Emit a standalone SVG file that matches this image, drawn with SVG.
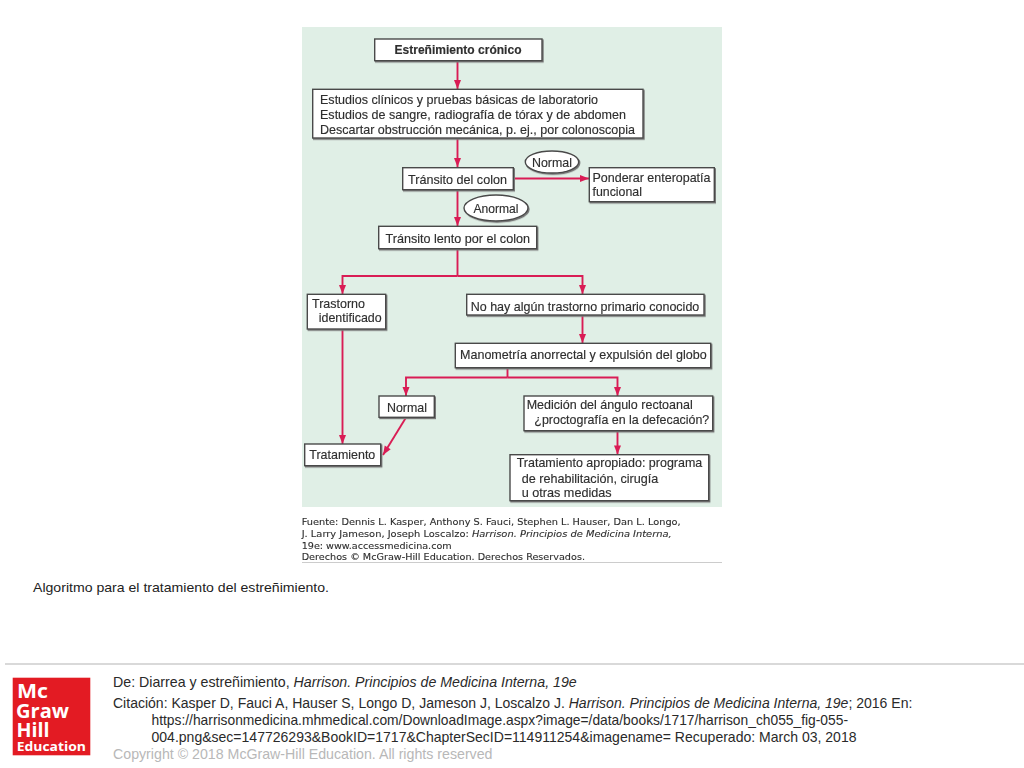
<svg xmlns="http://www.w3.org/2000/svg" width="1024" height="768" viewBox="0 0 1024 768">
<style>
text{font-family:"Liberation Sans",Arial,sans-serif;fill:#2e2e2e}
.n{fill:#fff;stroke:#4a4a4a;stroke-width:1.4;filter:url(#sh)}
.t{font-size:12.8px;stroke:#2e2e2e;stroke-width:.15px}
.b{font-weight:bold}
.c{text-anchor:middle}
.l{fill:none;stroke:#d91f55;stroke-width:1.9}
.s{font-family:"DejaVu Sans",Verdana,sans-serif;font-size:9.3px;fill:#2e2e2e;stroke:#2e2e2e;stroke-width:.12px}
.f{font-size:14.2px;fill:#2a2a2a}
.g{font-family:"Open Sans",Arial,sans-serif;font-weight:bold;fill:#fff}
</style>
<defs>
<filter id="sh" x="-5%" y="-10%" width="110%" height="125%"><feDropShadow dx="1" dy="1.2" stdDeviation="0.5" flood-color="#777"/></filter>
<filter id="soft" x="0" y="0" width="100%" height="100%"><feGaussianBlur stdDeviation="0.35"/></filter>
<marker id="a" markerUnits="userSpaceOnUse" markerWidth="8" markerHeight="10" refX="9" refY="3.500" orient="auto" overflow="visible"><path d="M0 0L9 3.500L0 7z" fill="#d91f55"/></marker>
</defs>
<rect width="1024" height="768" fill="#fff"/>
<g id="figure" filter="url(#soft)">
<rect x="302" y="27" width="420" height="480" fill="#e0efe6"/>
<g id="connectors">
<path class="l" marker-end="url(#a)" d="M457.500 61V89"/>
<path class="l" marker-end="url(#a)" d="M457.500 138V167"/>
<path class="l" marker-end="url(#a)" d="M513 178.500H589"/>
<path class="l" marker-end="url(#a)" d="M457.500 190V226"/>
<path class="l" d="M457.500 249V276"/>
<path class="l" marker-end="url(#a)" d="M457.500 276H342.500V294"/>
<path class="l" marker-end="url(#a)" d="M457.500 276H582.500V294"/>
<path class="l" marker-end="url(#a)" d="M582.500 315V343"/>
<path class="l" d="M507.500 368V377.500"/>
<path class="l" marker-end="url(#a)" d="M507.500 377.500H406V396"/>
<path class="l" marker-end="url(#a)" d="M507.500 377.500H617.500V396"/>
<path class="l" marker-end="url(#a)" d="M342.500 329V444"/>
<path class="l" marker-end="url(#a)" d="M406 417.500L383 455"/>
<path class="l" marker-end="url(#a)" d="M617.500 431V454.500"/>
</g>
<g id="n1"><rect class="n" x="374.700" y="39" width="167.300" height="21.700"/><text class="t b" x="394.500" y="54" textLength="127" lengthAdjust="spacingAndGlyphs">Estreñimiento crónico</text></g>
<g id="n2"><rect class="n" x="312.700" y="89.300" width="330.300" height="48.700"/>
<text class="t" x="320" y="103.500" textLength="278" lengthAdjust="spacingAndGlyphs">Estudios clínicos y pruebas básicas de laboratorio</text>
<text class="t" x="320" y="118.500" textLength="306" lengthAdjust="spacingAndGlyphs">Estudios de sangre, radiografía de tórax y de abdomen</text>
<text class="t" x="320" y="133.500" textLength="315" lengthAdjust="spacingAndGlyphs">Descartar obstrucción mecánica, p. ej., por colonoscopia</text></g>
<g id="n3"><rect class="n" x="402.700" y="167.700" width="110.600" height="22"/><text class="t" x="408" y="184" textLength="99" lengthAdjust="spacingAndGlyphs">Tránsito del colon</text></g>
<g id="n4"><ellipse class="n" cx="552" cy="162" rx="26.700" ry="11"/><text class="t c" x="552" y="166.800" textLength="40" lengthAdjust="spacingAndGlyphs">Normal</text></g>
<g id="n5"><rect class="n" x="589.300" y="167.700" width="125" height="34"/><text class="t" x="592.500" y="181.500" textLength="118" lengthAdjust="spacingAndGlyphs">Ponderar enteropatía</text><text class="t" x="592.500" y="196" textLength="49.500" lengthAdjust="spacingAndGlyphs">funcional</text></g>
<g id="n6"><ellipse class="n" cx="496" cy="208" rx="32" ry="13"/><text class="t c" x="496" y="213" textLength="45" lengthAdjust="spacingAndGlyphs">Anormal</text></g>
<g id="n7"><rect class="n" x="378.700" y="226.300" width="158" height="22.400"/><text class="t" x="385.500" y="242.500" textLength="144.500" lengthAdjust="spacingAndGlyphs">Tránsito lento por el colon</text></g>
<g id="n8"><rect class="n" x="307.300" y="294.300" width="78.400" height="34.700"/><text class="t" x="312" y="307.700" textLength="53" lengthAdjust="spacingAndGlyphs">Trastorno</text><text class="t" x="318.700" y="322.300" textLength="63" lengthAdjust="spacingAndGlyphs">identificado</text></g>
<g id="n9"><rect class="n" x="466.700" y="294.300" width="237.300" height="20.700"/><text class="t" x="470.700" y="310.500" textLength="228.600" lengthAdjust="spacingAndGlyphs">No hay algún trastorno primario conocido</text></g>
<g id="n10"><rect class="n" x="455.300" y="343.300" width="255.400" height="24.400"/><text class="t" x="460" y="359.300" textLength="246.700" lengthAdjust="spacingAndGlyphs">Manometría anorrectal y expulsión del globo</text></g>
<g id="n11"><rect class="n" x="379" y="396" width="55.300" height="21.300"/><text class="t" x="387" y="411.500" textLength="40" lengthAdjust="spacingAndGlyphs">Normal</text></g>
<g id="n12"><rect class="n" x="524" y="396" width="188.700" height="34.700"/><text class="t" x="526.700" y="409" textLength="166" lengthAdjust="spacingAndGlyphs">Medición del ángulo rectoanal</text><text class="t" x="534.300" y="424" textLength="175" lengthAdjust="spacingAndGlyphs">¿proctografía en la defecación?</text></g>
<g id="n13"><rect class="n" x="304.700" y="444" width="76" height="21.700"/><text class="t" x="309.300" y="459" textLength="66" lengthAdjust="spacingAndGlyphs">Tratamiento</text></g>
<g id="n14"><rect class="n" x="510" y="454.700" width="198.700" height="46"/>
<text class="t" x="516.700" y="467" textLength="185.600" lengthAdjust="spacingAndGlyphs">Tratamiento apropiado: programa</text>
<text class="t" x="521.700" y="482.500" textLength="136.600" lengthAdjust="spacingAndGlyphs">de rehabilitación, cirugía</text>
<text class="t" x="521.700" y="497.300" textLength="90" lengthAdjust="spacingAndGlyphs">u otras medidas</text></g>
<g id="source">
<text class="s" x="301.700" y="525" textLength="379" lengthAdjust="spacingAndGlyphs">Fuente: Dennis L. Kasper, Anthony S. Fauci, Stephen L. Hauser, Dan L. Longo,</text>
<text class="s" x="301.700" y="537.300" textLength="370" lengthAdjust="spacingAndGlyphs">J. Larry Jameson, Joseph Loscalzo: <tspan font-style="italic">Harrison. Principios de Medicina Interna,</tspan></text>
<text class="s" x="301.700" y="548.500" textLength="150" lengthAdjust="spacingAndGlyphs">19e: www.accessmedicina.com</text>
<text class="s" x="301.700" y="560.300" textLength="283.300" lengthAdjust="spacingAndGlyphs">Derechos © McGraw-Hill Education. Derechos Reservados.</text>
<path d="M302 562.500H722" stroke="#ccc" stroke-width="1"/>
</g>
</g>
<text id="caption" x="33" y="592" font-size="13.300" style="fill:#222" textLength="296" lengthAdjust="spacingAndGlyphs">Algoritmo para el tratamiento del estreñimiento.</text>
<path d="M5 664H1024" stroke="#ccc" stroke-width="1.500"/>
<g id="logo"><rect x="12.700" y="677.700" width="77.600" height="77.600" fill="#e31b23"/>
<text class="g" x="17" y="698.300" font-size="20" textLength="31" lengthAdjust="spacingAndGlyphs">Mc</text>
<text class="g" x="16" y="717.700" font-size="20" textLength="53" lengthAdjust="spacingAndGlyphs">Graw</text>
<text class="g" x="16.500" y="736.700" font-size="20" textLength="33" lengthAdjust="spacingAndGlyphs">Hill</text>
<text class="g" x="16.700" y="751" font-size="13" textLength="69.300" lengthAdjust="spacingAndGlyphs">Education</text></g>
<g id="footer">
<text class="f" x="113" y="687.300">De: Diarrea y estreñimiento, <tspan font-style="italic">Harrison. Principios de Medicina Interna, 19e</tspan></text>
<text class="f" x="113" y="707.700" style="font-size:14.030px">Citación: Kasper D, Fauci A, Hauser S, Longo D, Jameson J, Loscalzo J. <tspan font-style="italic">Harrison. Principios de Medicina Interna, 19e</tspan>; 2016 En:</text>
<text class="f" x="151.500" y="724.500" textLength="696.500" lengthAdjust="spacingAndGlyphs">https://harrisonmedicina.mhmedical.com/DownloadImage.aspx?image=/data/books/1717/harrison_ch055_fig-055-</text>
<text class="f" x="151.500" y="741.700" textLength="705" lengthAdjust="spacingAndGlyphs">004.png&amp;sec=147726293&amp;BookID=1717&amp;ChapterSecID=114911254&amp;imagename= Recuperado: March 03, 2018</text>
<text class="f" x="113" y="759.300" style="fill:#b8b8b8">Copyright © 2018 McGraw-Hill Education. All rights reserved</text>
</g>
</svg>
